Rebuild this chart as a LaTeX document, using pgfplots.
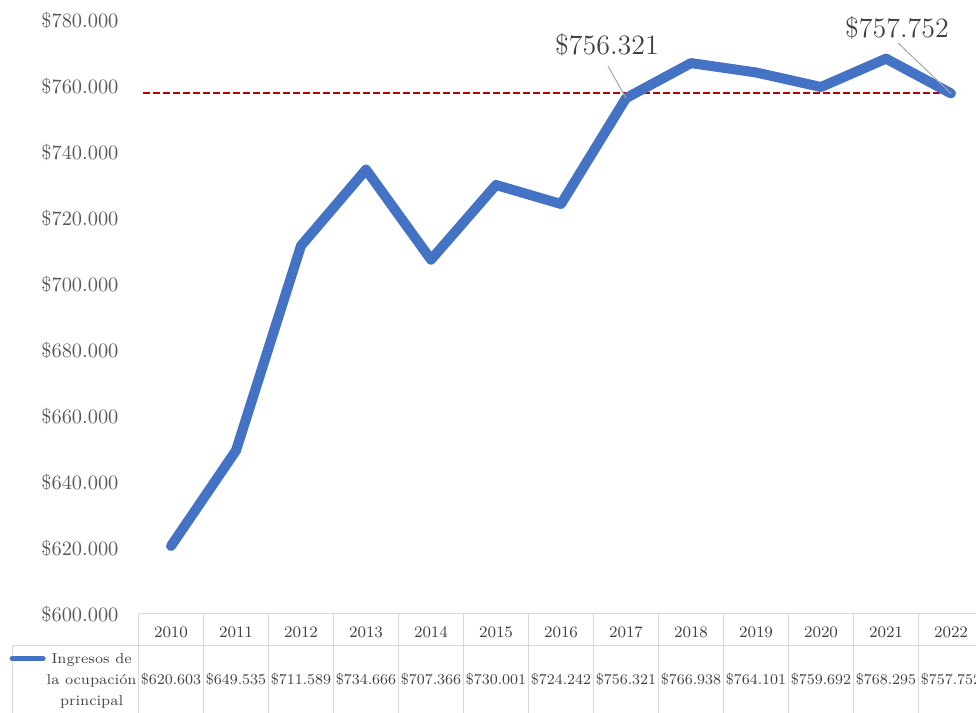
\documentclass[border=0pt]{standalone}
\usepackage{pgfplots}
\pgfplotsset{compat=1.18}
\definecolor{blueline}{HTML}{4472C4}
\definecolor{redline}{HTML}{C00000}
\definecolor{gridc}{HTML}{D9D9D9}
\definecolor{ticktext}{HTML}{595959}
\definecolor{lbltext}{HTML}{404040}
\definecolor{leader}{HTML}{A6A6A6}
\newcommand\V[1]{{\fontsize{7.5}{9}\selectfont\$#1}}
\begin{document}
\begin{tikzpicture}
\useasboundingbox (0,0) rectangle (488pt,356.5pt);
\begin{axis}[
  at={(69.25pt,49.5pt)}, anchor=south west,
  scale only axis, width=422.5pt, height=297pt,
  xmin=-0.5, xmax=12.5, ymin=600000, ymax=780000,
  axis line style={draw=none},
  major tick length=0pt,
  clip=false,
  scaled y ticks=false,
  xtick={0,...,12},
  xticklabels={
    {2010\\[14pt]\V{620.603}},{2011\\[14pt]\V{649.535}},{2012\\[14pt]\V{711.589}},
    {2013\\[14pt]\V{734.666}},{2014\\[14pt]\V{707.366}},{2015\\[14pt]\V{730.001}},
    {2016\\[14pt]\V{724.242}},{2017\\[14pt]\V{756.321}},{2018\\[14pt]\V{766.938}},
    {2019\\[14pt]\V{764.101}},{2020\\[14pt]\V{759.692}},{2021\\[14pt]\V{768.295}},
    {2022\\[14pt]\V{757.752}}},
  xticklabel style={font=\footnotesize, text=lbltext, align=center, yshift=-3pt},
  ytick={600000,620000,...,780000},
  yticklabels={\$600.000,\$620.000,\$640.000,\$660.000,\$680.000,\$700.000,\$720.000,\$740.000,\$760.000,\$780.000},
  yticklabel style={text=ticktext, xshift=-6.5pt, font=\fontsize{10.2}{12}\selectfont},
  legend style={at={(rel axis cs:-0.153,-0.055)}, anchor=north west, draw=none, fill=none,
    font=\fontsize{7.2}{8.6}\selectfont, text=lbltext, inner sep=0pt, nodes={inner xsep=0.5pt}},
  legend cell align=left,
]
% table grid
\draw[gridc, line width=0.5pt] (axis cs:-0.5,600000) -- (axis cs:12.5,600000);
\draw[gridc, line width=0.5pt] (axis cs:-2.446,590606) -- (axis cs:12.5,590606);
\draw[gridc, line width=0.5pt] (axis cs:-2.446,590606) -- (axis cs:-2.446,570000);
\pgfplotsinvokeforeach{-0.5,0.5,...,12.5}{
  \draw[gridc, line width=0.5pt] (axis cs:#1,600000) -- (axis cs:#1,570000);
}
\addplot[redline, line width=1pt, dash pattern=on 3.5pt off 1.5pt, forget plot]
  coordinates {(-0.43,757752) (12,757752)};
\addplot[blueline, line width=5pt, line join=round, line cap=round,
  legend image code/.code={\draw[blueline, line width=2.5pt, line cap=round] (0pt,0pt) -- (15.5pt,0pt);}]
  coordinates {
  (0,620603) (1,649535) (2,711589) (3,734666) (4,707366) (5,730001) (6,724242)
  (7,756321) (8,766938) (9,764101) (10,759692) (11,768295) (12,757752)};
\addlegendentry{\begin{tabular}[t]{@{}c@{}}Ingresos de\\[2pt]la ocupación\\[2pt]principal\end{tabular}}
\draw[leader, line width=0.5pt] (axis cs:6.723,766060) -- (axis cs:7,756321);
\draw[leader, line width=0.5pt] (axis cs:11.185,773030) -- (axis cs:12,757752);
\node[text=lbltext, font=\fontsize{14}{16}\selectfont] at (axis cs:6.708,772424) {\$756.321};
\node[text=lbltext, font=\fontsize{14}{16}\selectfont] at (axis cs:11.169,777576) {\$757.752};
\end{axis}
\end{tikzpicture}
\end{document}
